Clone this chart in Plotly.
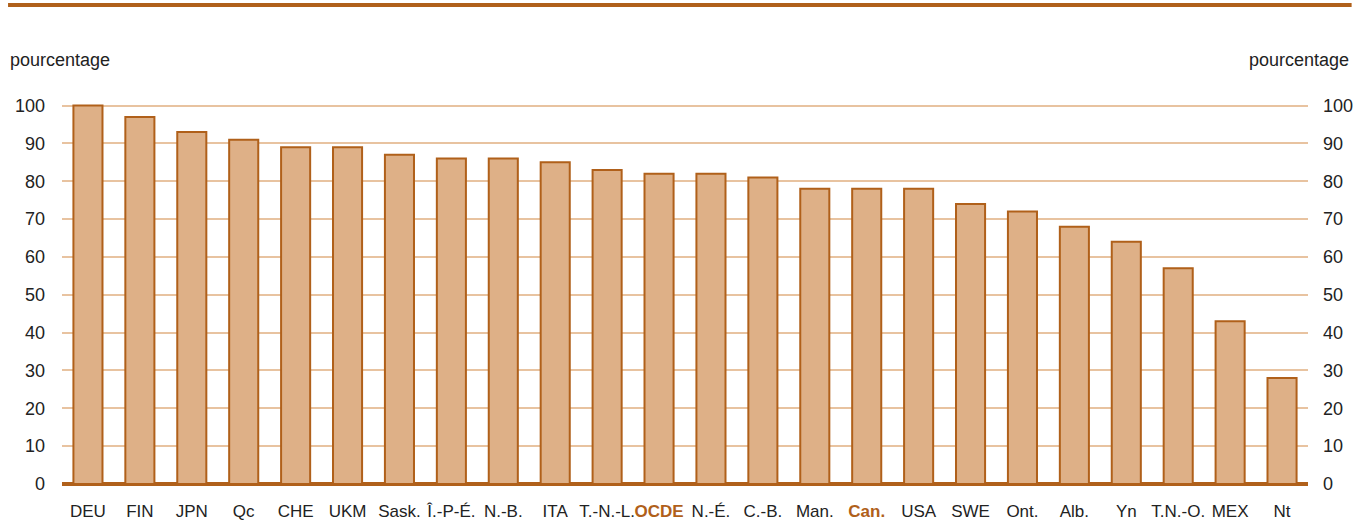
import plotly.graph_objects as go

# Données
pays = ["DEU", "FIN", "JPN", "Qc", "CHE", "UKM", "Sask.", "Î.-P-É.", "N.-B.", "ITA",
        "T.-N.-L.", "OCDE", "N.-É.", "C.-B.", "Man.", "Can.", "USA", "SWE", "Ont.",
        "Alb.", "Yn", "T.N.-O.", "MEX", "Nt"]
pourcentage = [100, 97, 93, 91, 89, 89, 87, 86, 86, 85,
               83, 82, 82, 81, 78, 78, 78, 74, 72,
               68, 64, 57, 43, 28]
en_evidence = ["OCDE", "Can."]
yticks = list(range(0, 101, 10))

BRUN = "#b0601a"
REMPLI = "#deb087"
GRILLE = "#e8c3a0"
POLICE = "Liberation Sans Narrow, Liberation Sans, Arial, sans-serif"

ticktext = [f"<b><span style='color:{BRUN}'>{p}</span></b>" if p in en_evidence else p
            for p in pays]

fig = go.Figure()
fig.add_trace(go.Bar(
    x=pays, y=pourcentage,
    width=0.56,
    marker=dict(color=REMPLI, line=dict(color=BRUN, width=2)),
    hovertemplate='%{x}: %{y}<extra></extra>',
))
# trace invisible pour l'axe de droite
fig.add_trace(go.Scatter(x=[pays[0]], y=[0], yaxis="y2", mode="markers",
                         marker=dict(opacity=0), hoverinfo="skip", showlegend=False))

y_range = [0, 102]
fig.update_layout(
    width=1369, height=522,
    margin=dict(l=62, r=61, t=98, b=38),
    plot_bgcolor="white", paper_bgcolor="white",
    showlegend=False,
    font=dict(family=POLICE, size=18, color="#222"),
    xaxis=dict(
        tickmode="array", tickvals=pays, ticktext=ticktext,
        showgrid=False, showline=False, ticks="", tickangle=0,
        range=[-0.5, len(pays) - 0.5], automargin=False,
        tickfont=dict(size=17), ticklabelstandoff=15,
    ),
    yaxis=dict(
        range=y_range, tickvals=yticks, showgrid=True, gridcolor=GRILLE, gridwidth=2,
        zeroline=True, zerolinecolor=BRUN, zerolinewidth=4,
        ticks="", showline=False, ticklabelstandoff=16, automargin=False,
    ),
    yaxis2=dict(
        range=y_range, tickvals=yticks, overlaying="y", side="right",
        showgrid=False, zeroline=False, ticks="", showline=False,
        ticklabelstandoff=14, automargin=False,
    ),
    shapes=[dict(type="line", xref="paper", yref="paper",
                 x0=-0.0433, x1=1.035, y0=1.241, y1=1.241,
                 line=dict(color=BRUN, width=4))],
    annotations=[
        dict(text="pourcentage", xref="paper", yref="paper", x=-0.0433, y=1.098,
             xanchor="left", yanchor="middle", showarrow=False, font=dict(size=18)),
        dict(text="pourcentage", xref="paper", yref="paper", x=1.0345, y=1.098,
             xanchor="right", yanchor="middle", showarrow=False, font=dict(size=18)),
    ],
)

# pas de marge autour du graphique dans la page, pas de barre d'outils
fig.write_html("out.html", config={"displayModeBar": False},
               post_script="document.body.style.margin='0';")
